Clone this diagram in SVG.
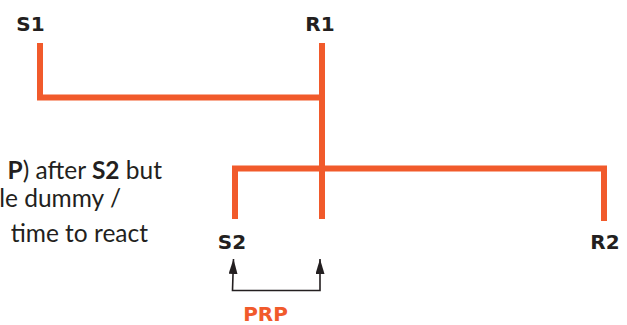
<svg xmlns="http://www.w3.org/2000/svg" width="627" height="325" viewBox="0 0 627 325">
  <style>
    .wire { fill: none; stroke: #F15A2B; stroke-width: 6; stroke-linejoin: miter; stroke-linecap: butt; }
    .label { font-family: "DejaVu Sans", Verdana, sans-serif; font-weight: 700; font-size: 20px; fill: #231F20; text-anchor: middle; }
    .note { font-family: Lato, "Open Sans", sans-serif; font-size: 24.5px; fill: #231F20; text-anchor: end; }
    .note .b { font-weight: 700; }
    .span { fill: none; stroke: #231F20; stroke-width: 1.6; }
    .prp { font-family: "DejaVu Sans", Verdana, sans-serif; font-weight: 700; font-size: 20px; fill: #F15A2B; text-anchor: middle; }
  </style>
  <defs>
    <marker id="head" viewBox="0 0 15 9" refX="15" refY="4.5" markerWidth="15" markerHeight="9" markerUnits="userSpaceOnUse" orient="auto-start-reverse">
      <path d="M0,0 L15,4.5 L0,9 Z" fill="#231F20"/>
    </marker>
  </defs>
  <rect width="627" height="325" fill="#FFFFFF"/>

  <!-- side note, running in from the left edge -->
  <g id="note">
    <text class="note" x="162" y="179"><tspan class="b">P</tspan>) after <tspan class="b">S2</tspan> but</text>
    <text class="note" x="121" y="207">le dummy /</text>
    <text class="note" x="148" y="242">time to react</text>
  </g>

  <!-- connectors -->
  <g id="connectors">
    <path class="wire" d="M40,43 V97.5 H325"/>
    <path class="wire" d="M322,43 V219"/>
    <path class="wire" d="M235,219 V168.5 H604 V221"/>
    <path class="span" d="M233.5,259 L232.5,290.5 H320 V259" marker-start="url(#head)" marker-end="url(#head)"/>
  </g>

  <g id="S1"><text class="label" x="30.5" y="31">S1</text></g>
  <g id="R1"><text class="label" x="320" y="31">R1</text></g>
  <g id="S2"><text class="label" x="232" y="249">S2</text></g>
  <g id="R2"><text class="label" x="605" y="249">R2</text></g>
  <g id="PRP"><text class="prp" x="265.5" y="321">PRP</text></g>
</svg>
